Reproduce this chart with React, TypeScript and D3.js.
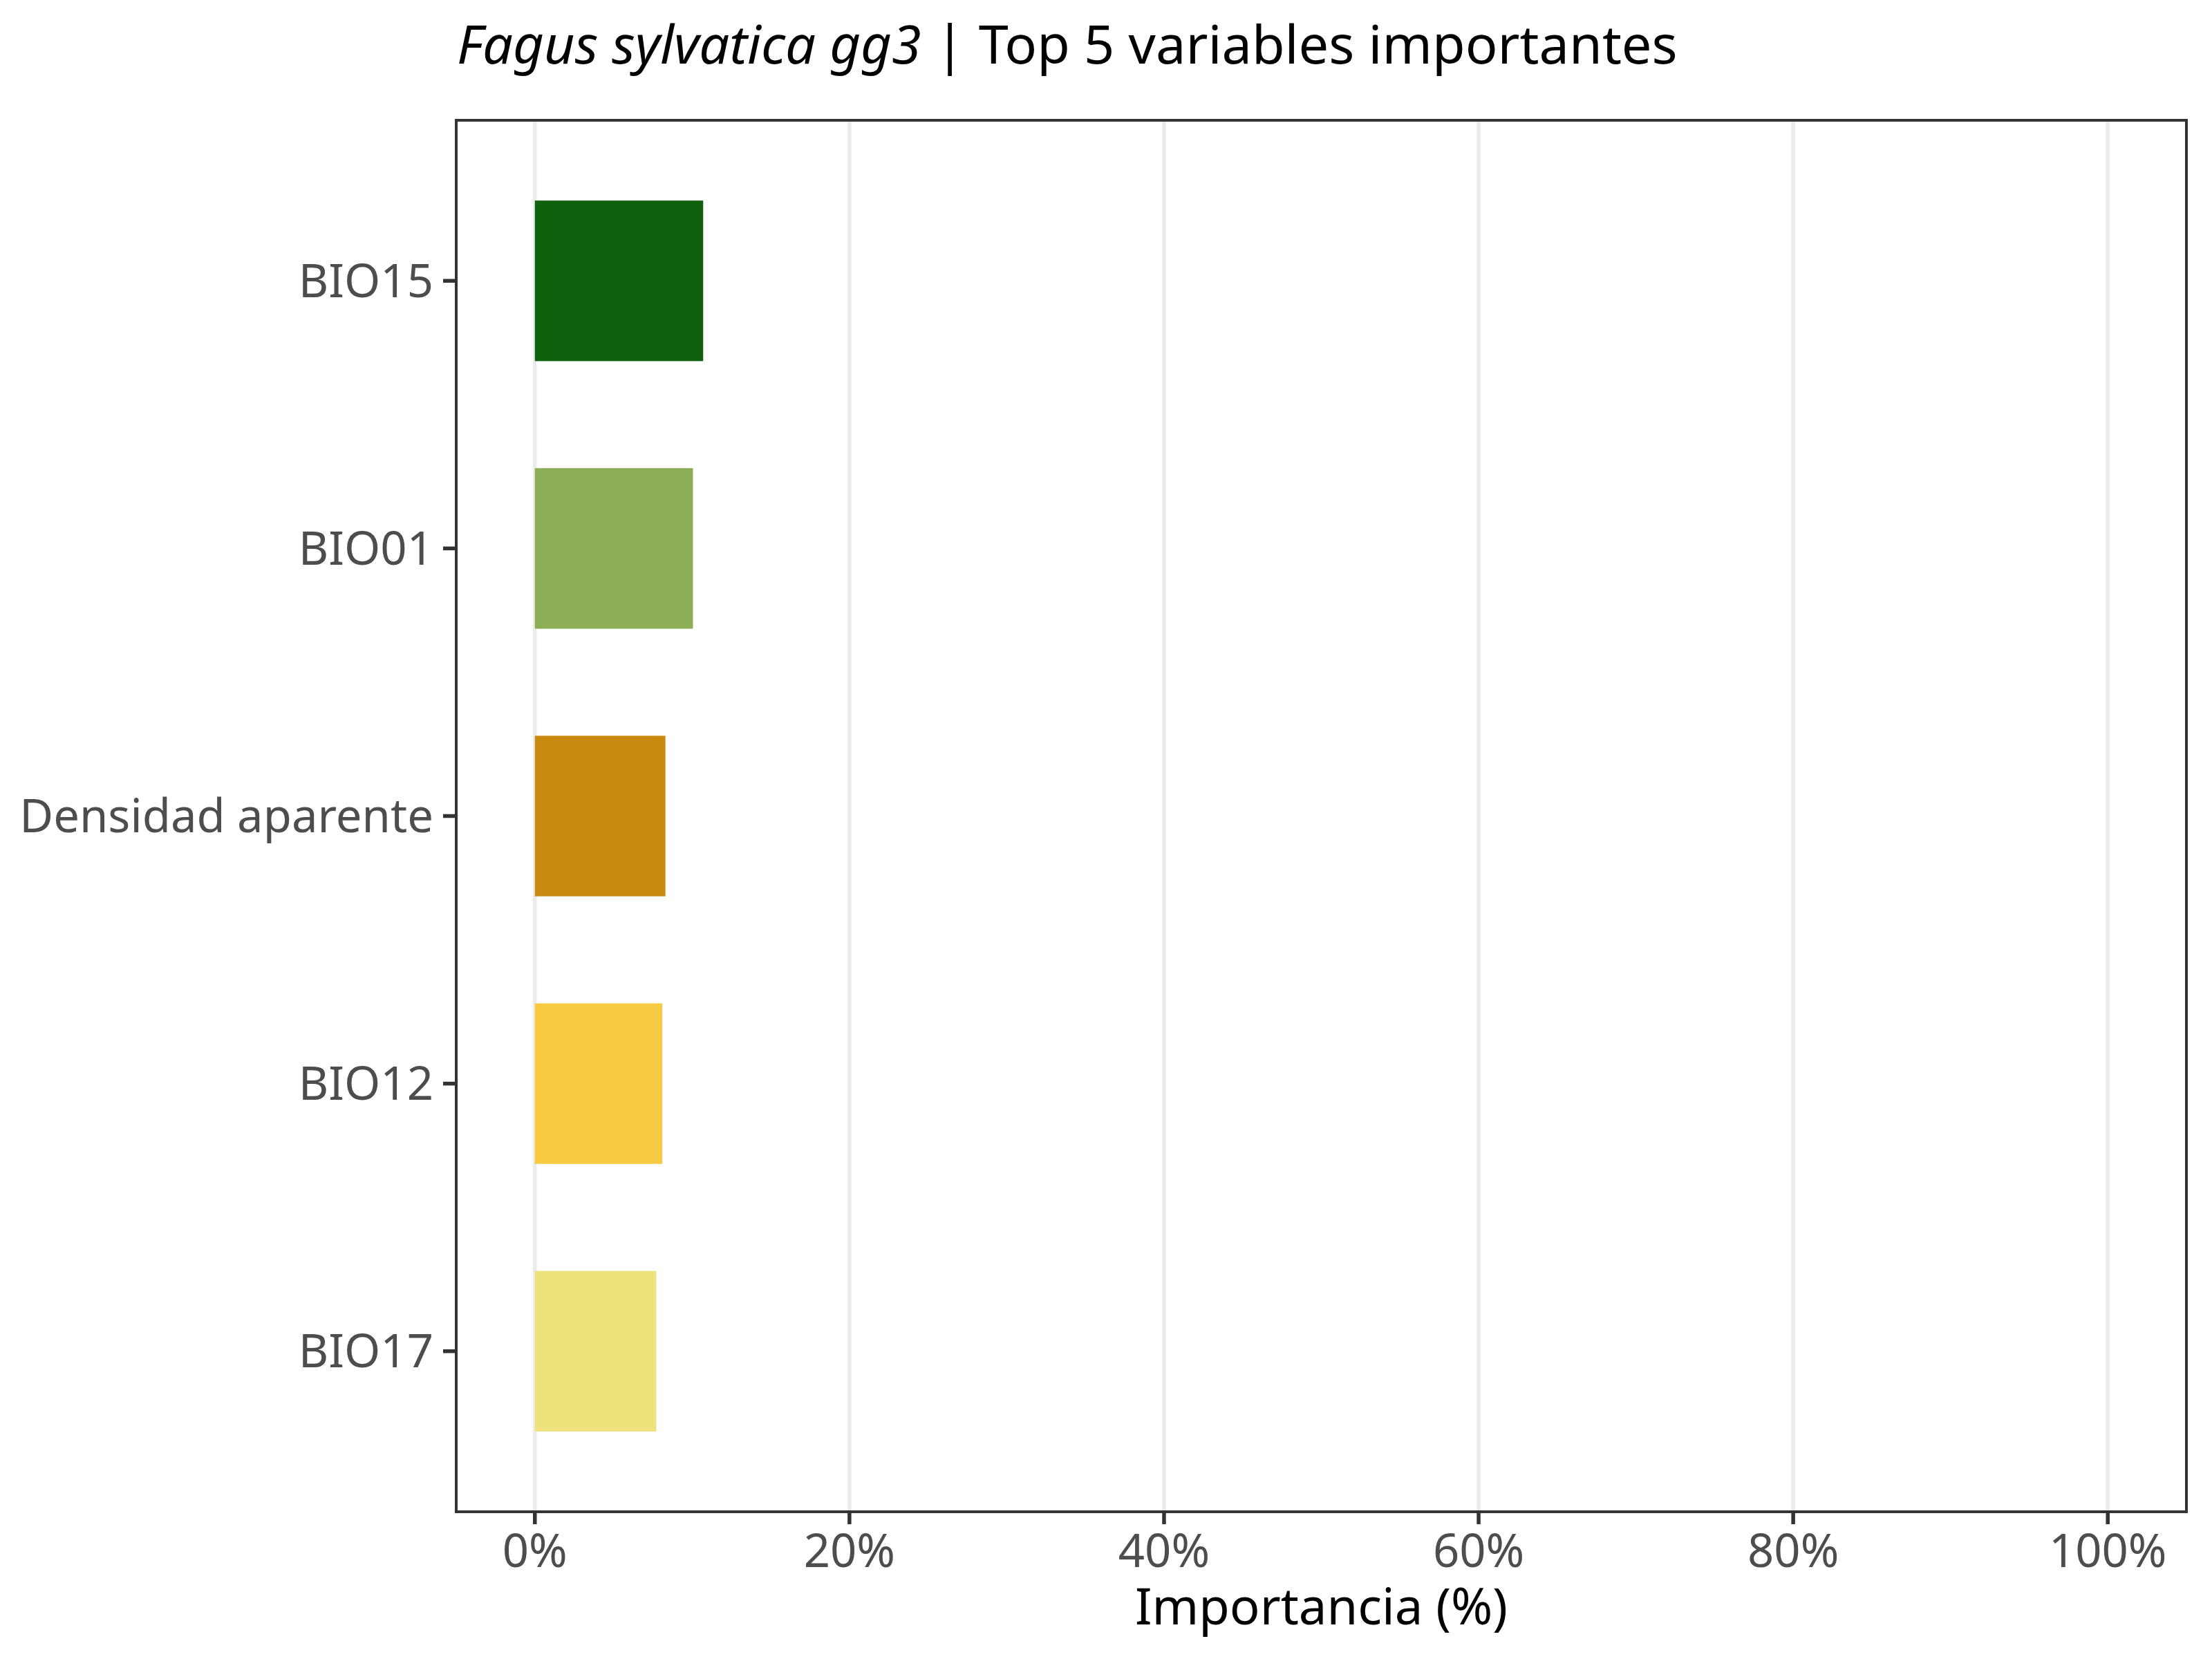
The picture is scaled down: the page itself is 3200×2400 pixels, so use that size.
import React from 'react';
import * as d3 from 'd3';

// variables, de mayor a menor importancia
const variables = ['BIO15', 'BIO01', 'Densidad aparente', 'BIO12', 'BIO17'];
const importancia = [10.7, 10.05, 8.3, 8.1, 7.72];
const colores = ['#10600e', '#8aad55', '#c98b0f', '#f6cb42', '#eee27c'];
const xTicks = [0, 20, 40, 60, 80, 100];

const W = 3200;
const H = 2400;
const panel = { left: 660, right: 3163, top: 174, bottom: 2187 };
const FONT = '"Noto Sans", "Open Sans", sans-serif';

const App: React.FC = () => {
    const x = d3.scaleLinear().domain([-5, 105]).range([panel.left, panel.right]);
    const y = d3.scalePoint<string>().domain(variables).range([panel.top, panel.bottom]).padding(0.6);
    const barH = y.step() * 0.6;

    return (
        <svg
            width={W}
            height={H}
            viewBox={`0 0 ${W} ${H}`}
            style={{ position: 'absolute', left: 0, top: 0, display: 'block', background: '#fff' }}
        >
            <rect x={0} y={0} width={W} height={H} fill="#fff" />

            {/* grid vertical */}
            {xTicks.map((t) => (
                <line key={'g' + t} x1={x(t)} x2={x(t)} y1={panel.top} y2={panel.bottom} stroke="#ebebeb" strokeWidth={5.5} />
            ))}

            {/* barras */}
            {variables.map((v, i) => (
                <rect
                    key={v}
                    x={x(0)}
                    y={(y(v) as number) - barH / 2}
                    width={x(importancia[i]) - x(0)}
                    height={barH}
                    fill={colores[i]}
                />
            ))}

            {/* borde del panel */}
            <rect
                x={panel.left}
                y={panel.top}
                width={panel.right - panel.left}
                height={panel.bottom - panel.top}
                fill="none"
                stroke="#333333"
                strokeWidth={4}
            />

            {/* eje y */}
            {variables.map((v) => (
                <g key={'y' + v} transform={`translate(0,${y(v)})`}>
                    <line x1={panel.left - 19} x2={panel.left} stroke="#333333" strokeWidth={5.5} />
                    <text
                        x={627}
                        dy="0.35em"
                        textAnchor="end"
                        fontFamily={FONT}
                        fontSize={67}
                        fill="#4d4d4d"
                    >
                        {v}
                    </text>
                </g>
            ))}

            {/* eje x */}
            {xTicks.map((t) => (
                <g key={'x' + t} transform={`translate(${x(t)},0)`}>
                    <line y1={panel.bottom} y2={panel.bottom + 18} stroke="#333333" strokeWidth={5.5} />
                    <text y={2267} textAnchor="middle" fontFamily={FONT} fontSize={67} fill="#4d4d4d">
                        {d3.format('d')(t) + '%'}
                    </text>
                </g>
            ))}

            <text
                x={(panel.left + panel.right) / 2}
                y={2350}
                textAnchor="middle"
                fontFamily={FONT}
                fontSize={72.5}
                fill="#000"
            >
                Importancia (%)
            </text>

            {/* título */}
            <text x={661} y={92} fontFamily={FONT} fontSize={77.5} fill="#000">
                <tspan fontStyle="italic">Fagus sylvatica gg3</tspan>
                <tspan> | Top 5 variables importantes</tspan>
            </text>
        </svg>
    );
};

export default App;
